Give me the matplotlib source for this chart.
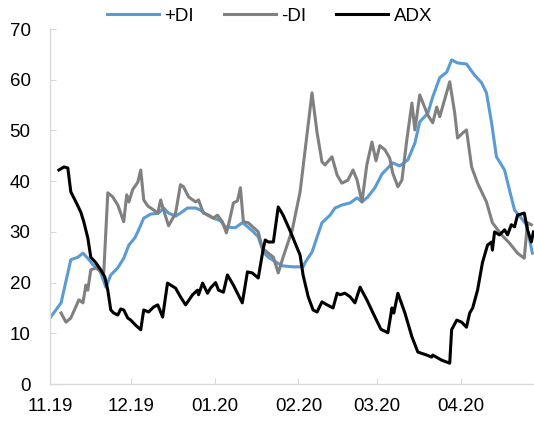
import numpy as np
import pandas as pd
import matplotlib
matplotlib.use("Agg")
import matplotlib.pyplot as plt
import matplotlib.dates as mdates

plt.rcParams['font.family'] = ['Liberation Sans', 'DejaVu Sans']

START = "2019-11-01"
END_DAY = 179.2

# day offsets from START and values
pdi_days = [0.4, 4.1, 7.7, 10.3, 12.2, 14.0, 15.9, 18.1, 20.7, 22.5,
            25.1, 27.3, 29.2, 31.4, 32.5, 34.7, 37.3, 40.2, 42.1, 43.9,
            46.5, 48.3, 50.9, 53.9, 55.7, 58.3, 60.5, 63.1, 64.9, 68.6,
            71.2, 72.3, 75.3, 77.1, 79.0, 80.8, 84.1, 86.0, 90.0, 93.7,
            94.5, 97.0, 98.9, 100.7, 103.7, 105.5, 108.1, 111.1, 113.7, 115.5,
            117.7, 120.3, 122.9, 126.9, 129.5, 132.5, 135.1, 136.9, 139.9, 141.7,
            144.3, 146.9, 148.7, 150.9, 154.2, 157.2, 159.8, 161.6, 163.5, 165.3,
            168.3, 170.1, 172.0, 174.5, 176.4, 178.6]
pdi_vals = [13.3, 16, 24.5, 25, 25.8, 24.8, 23.5, 22.9, 19.1, 21.5,
            22.9, 24.8, 27.4, 28.8, 30, 32.7, 33.5, 33.7, 34.7, 33.7,
            33.1, 33.7, 34.7, 34.7, 34.3, 33.3, 32.7, 32.2, 31, 30.8,
            31.8, 31.4, 30, 29, 26, 25, 23.9, 23.3, 23.1, 23.1,
            24, 26, 29, 31.8, 33.3, 34.7, 35.3, 35.7, 36.7, 35.9,
            36.9, 38.7, 41.4, 43.6, 43, 44.2, 47.5, 51.7, 53.4, 56.6,
            60.4, 61.5, 63.9, 63.3, 63.1, 60.9, 59.4, 57.4, 51.5, 44.8,
            42.2, 38.3, 34.3, 32.7, 31.4, 25.8]

mdi_days = [4.1, 5.9, 7.7, 10.7, 12.2, 13.3, 14.0, 15.1, 17.0, 18.8,
            19.9, 21.4, 23.2, 25.1, 27.3, 28.4, 29.2, 30.6, 32.5, 33.6,
            34.7, 36.2, 38.4, 39.9, 41.0, 41.7, 43.9, 46.5, 48.3, 49.4,
            51.3, 53.9, 55.0, 56.8, 58.7, 60.5, 62.0, 63.8, 65.3, 66.1,
            67.9, 69.4, 70.5, 71.6, 73.4, 77.1, 78.6, 80.8, 82.7, 84.5,
            86.3, 89.7, 92.6, 97.0, 98.9, 100.7, 101.8, 104.4, 106.3, 108.1,
            110.3, 112.2, 113.7, 115.5, 117.3, 119.2, 120.7, 122.1, 124.0, 125.8,
            126.9, 128.8, 130.3, 132.1, 134.0, 135.1, 136.9, 139.9, 141.7, 143.2,
            144.3, 148.0, 149.8, 150.9, 152.8, 154.2, 156.1, 158.3, 161.6, 163.8,
            167.2, 170.1, 173.1, 175.6, 176.8, 178.2]
mdi_vals = [14, 12.2, 13, 16.6, 16, 19.5, 18.5, 22.5, 22.9, 22.1,
            21.9, 37.7, 36.9, 35.3, 32, 37.3, 35.9, 38.3, 39.8, 42.2,
            36.3, 35.1, 34.3, 33.7, 36.3, 34.9, 31.2, 33.7, 39.3, 38.9,
            36.9, 35.9, 36.3, 33.7, 33.3, 32.7, 33.3, 32, 29.8, 31.4,
            35.7, 36.1, 38.7, 32, 31.8, 30, 26.8, 25.8, 25, 21.9,
            25, 30.4, 37.9, 57.4, 49.5, 43.8, 43.2, 44.8, 41.2, 39.6,
            40.2, 42.2, 40.2, 35.9, 43.2, 47.7, 44, 47, 46.2, 44.5,
            41.6, 38.9, 40.2, 48.1, 55.4, 50.1, 57, 53, 51.5, 54.6,
            52.7, 59.6, 53.6, 48.5, 49.5, 50.1, 42.8, 39.6, 35.9, 31.8,
            29.4, 27.8, 25.8, 24.8, 31.8, 31.4]

adx_days = [3.3, 5.2, 6.6, 7.7, 9.6, 11.4, 12.5, 14.0, 15.1, 17.0,
            18.8, 20.3, 21.4, 22.5, 23.6, 25.1, 26.2, 27.3, 28.8, 29.9,
            31.7, 33.6, 34.7, 36.5, 38.4, 39.9, 41.7, 43.5, 46.5, 48.3,
            50.2, 52.8, 54.6, 55.0, 56.5, 58.3, 59.4, 61.3, 62.4, 64.2,
            65.7, 67.9, 69.4, 71.2, 73.1, 74.9, 77.1, 79.0, 79.7, 80.8,
            82.7, 84.5, 86.3, 88.9, 92.6, 93.7, 95.6, 97.4, 98.9, 100.7,
            102.6, 104.8, 106.3, 107.4, 109.2, 111.1, 112.9, 114.8, 117.3, 119.6,
            122.5, 125.1, 126.6, 127.3, 128.8, 131.4, 134.0, 136.2, 139.5, 141.3,
            141.7, 145.0, 148.0, 148.7, 150.6, 152.4, 154.2, 155.4, 156.5, 158.3,
            160.1, 162.0, 163.5, 163.8, 164.6, 166.4, 168.3, 169.4, 170.8, 172.0,
            173.1, 175.6, 176.8, 178.2, 179.0]
adx_vals = [42.2, 42.8, 42.6, 37.9, 35.9, 33.9, 32, 28.8, 25, 23.9,
            22.5, 21.1, 18.5, 14.6, 14, 13.6, 14.8, 14.6, 13, 12.6,
            11.6, 10.7, 14.6, 14.2, 15.2, 15.6, 13.2, 19.9, 18.9, 17.2,
            15.6, 17.6, 18.5, 17.6, 19.9, 17.9, 18.9, 20, 18.5, 18.1,
            21.5, 19.5, 17.9, 16, 22.1, 21.9, 20.9, 26.8, 28.4, 28,
            28, 34.9, 33.3, 30.2, 25.4, 21.5, 17.2, 14.6, 14.2, 16.2,
            15.6, 15, 17.9, 17.6, 17.9, 17.2, 16, 19.1, 16.6, 14,
            10.8, 10.1, 15, 14, 17.9, 14, 9.3, 6.3, 5.7, 5.3,
            5.7, 4.7, 4.1, 10.7, 12.6, 12.2, 11.2, 14, 15, 18.5,
            23.9, 27.4, 28, 26.4, 30, 29.4, 30.4, 29.4, 31.4, 31,
            33.3, 33.7, 30.4, 28, 30]

series_names = ["+DI", "-DI", "ADX"]
series_colors = ["#5B9BD5", "#808080", "#000000"]

start = pd.Timestamp(START)
def to_dates(days):
    return start + pd.to_timedelta(np.array(days), unit="D")

fig = plt.figure(figsize=(5.34, 4.23), dpi=100)
ax = fig.add_axes([50/534, 39/423, 484/534, 355/423])

for d, v, name, c in zip([pdi_days, mdi_days, adx_days],
                         [pdi_vals, mdi_vals, adx_vals],
                         series_names, series_colors):
    ax.plot(to_dates(d), v, color=c, lw=2.2, label=name, solid_joinstyle="round")

ax.set_ylim(0, 70)
ax.set_yticks(np.arange(0, 71, 10))
ax.set_xlim(start, start + pd.Timedelta(days=END_DAY))
ax.xaxis.set_major_locator(mdates.MonthLocator(bymonthday=1))
ax.xaxis.set_major_formatter(mdates.DateFormatter("%m.%y"))

for s in ["top", "right"]:
    ax.spines[s].set_visible(False)
for s in ["left", "bottom"]:
    ax.spines[s].set_color("#D9D9D9")
    ax.spines[s].set_linewidth(1.0)

ax.tick_params(axis="both", direction="in", length=4, color="#D9D9D9",
               labelsize=13.5, labelcolor="black")
ax.tick_params(axis="y", pad=14)
ax.tick_params(axis="x", pad=10)

fig.legend(loc="center", bbox_to_anchor=(0.505, 1 - 16/423), ncol=3,
           frameon=False, fontsize=13.5, handlelength=2.75,
           handletextpad=0.3, columnspacing=1.6, borderaxespad=0)

fig.savefig("out.png", dpi=100)
